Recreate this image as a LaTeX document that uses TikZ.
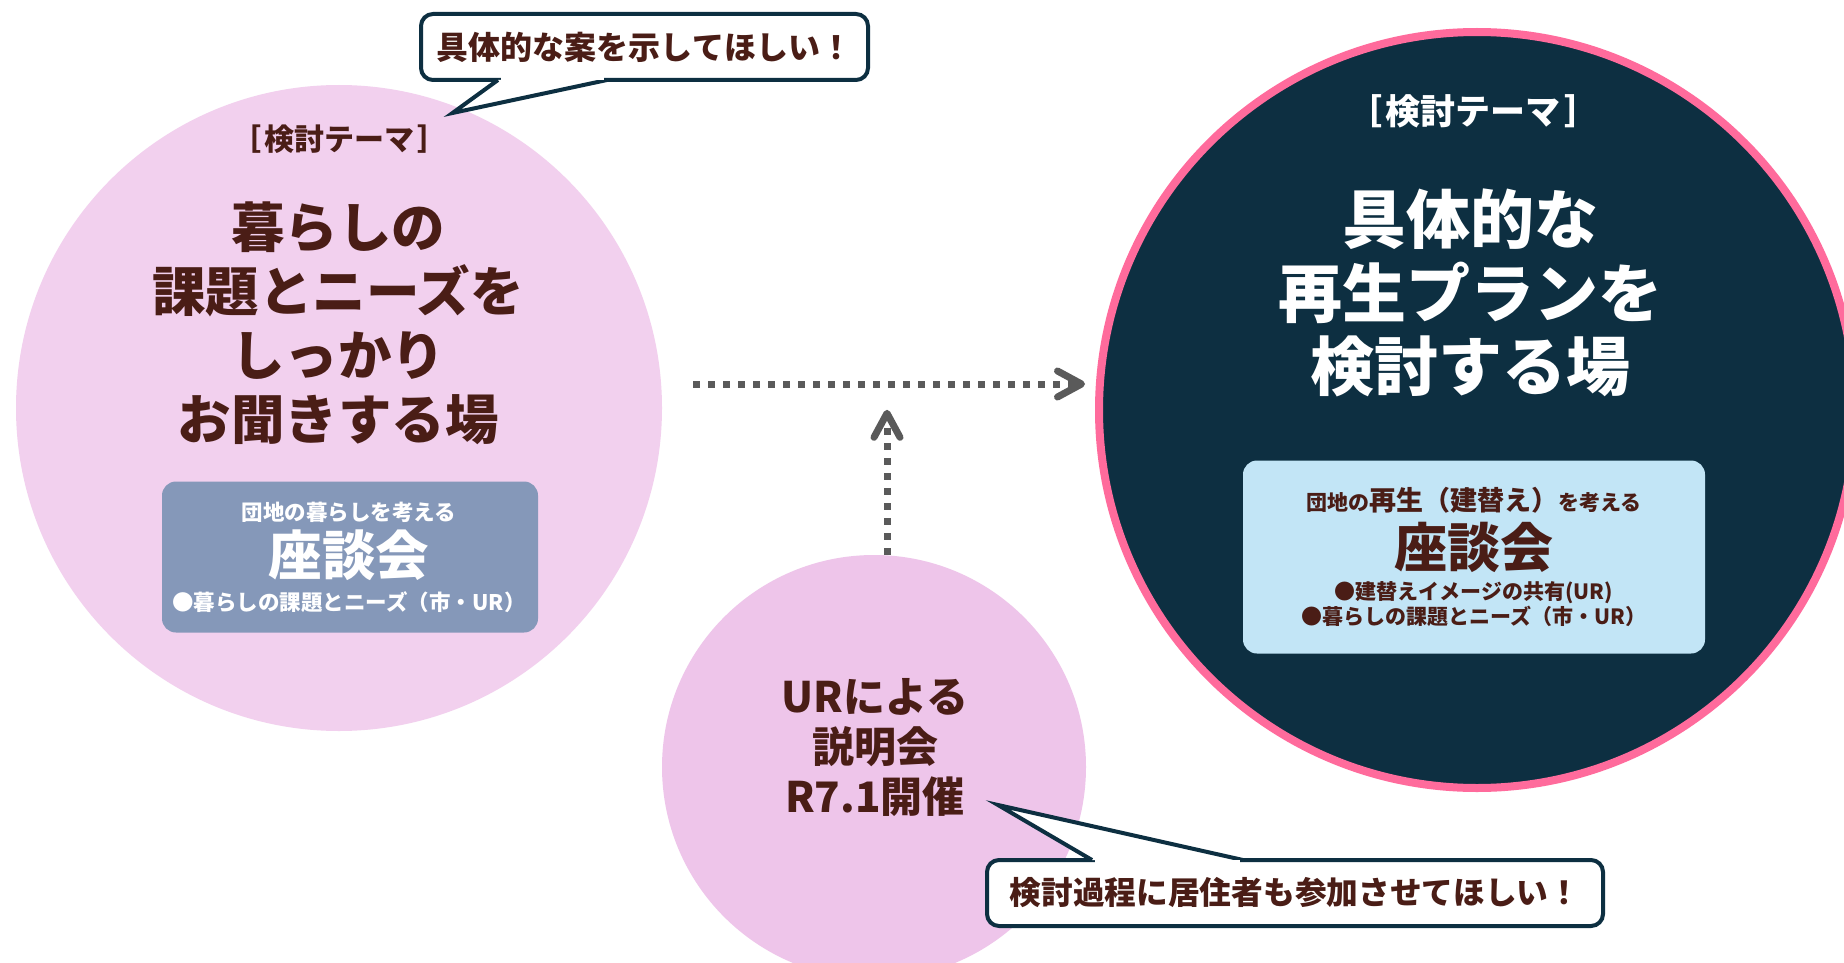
\documentclass[tikz,border=0pt]{standalone}
\usepackage{fontspec}
\setmainfont{Noto Sans CJK JP}
\newcommand{\wt}{\bfseries}
\usetikzlibrary{arrows.meta,calc}
\definecolor{txtbrown}{HTML}{4A1D16}
\definecolor{navy}{HTML}{0D2F41}
\definecolor{ringpink}{HTML}{FF6B9C}
\definecolor{lpink}{HTML}{F2D0EE}
\definecolor{bpink}{HTML}{EEC5EA}
\definecolor{slate}{HTML}{8598B9}
\definecolor{lblue}{HTML}{C2E5F6}
\definecolor{arrowgray}{HTML}{5A5A5A}
\newcommand{\fsz}[2]{\fontsize{#1pt}{#2pt}\selectfont}
\newcommand{\theme}{［\hspace{0.1em}検討テーマ\hspace{0.1em}］}
\begin{document}
\begin{tikzpicture}[x=1pt,y=-1pt,
  bigcircle/.style={circle,inner sep=0pt},
  txt/.style={inner sep=0pt,align=center,text=txtbrown},
  infobox/.style={rectangle,rounded corners=14pt,inner sep=0pt},
  bubble/.style={rectangle,rounded corners=12pt,draw=navy,line width=4pt,fill=white,
    inner sep=0pt,text=txtbrown},
  tailline/.style={draw=navy,line width=4pt,fill=white,line join=miter},
  dotline/.style={draw=arrowgray,line width=7pt,dash pattern=on 7pt off 8pt,
    -{Straight Barb[length=24pt,width=26pt,line width=7pt,round]}}
]
\useasboundingbox (0,0) rectangle (1844,963);
\clip (0,0) rectangle (1844,963);
\fill[white] (0,0) rectangle (1844,963);

% circles
\node[bigcircle,minimum size=646pt,fill=lpink] (L) at (339,408) {};
\node[bigcircle,minimum size=756pt,fill=navy,draw=ringpink,line width=8pt] (R) at (1477,410) {};
\node[bigcircle,minimum size=424pt,fill=bpink] (B) at (874,767) {};

% left circle texts
\node[txt,font={\wt\fsz{30}{34}}] (Ltheme) at (339,139) {\theme};
\node[txt,font={\wt\fsz{53.5}{64}}] (Lmain) at (338,323) {暮らしの\\課題とニーズを\\しっかり\\お聞きする場};
\node[infobox,fill=slate,minimum width=376pt,minimum height=151pt] (LB) at (350,557) {};
\node[txt,text=white,font={\wt\fsz{21.5}{25}}] (LBt) at (349,512) {団地の暮らしを考える};
\node[txt,text=white,font={\wt\fsz{53.5}{60}}] (LBz) at (349,555) {座談会};
\node[txt,text=white,font={\wt\fsz{21.5}{25}}] (LBl) at (349,602) {●暮らしの課題とニーズ（市・UR）};

% right circle texts
\node[txt,text=white,font={\wt\fsz{35}{40}}] (Rtheme) at (1473,111) {\theme};
\node[txt,text=white,font={\wt\fsz{64}{73.5}}] (Rmain) at (1470,293) {具体的な\\再生プランを\\検討する場};
\node[infobox,fill=lblue,minimum width=462pt,minimum height=193pt] (RB) at (1474,557) {};
\node[txt,font={\wt\fsz{21}{27}}] (RBt) at (1474,500) {団地の{\fsz{27}{31}再生（建替え）}を考える};
\node[txt,font={\wt\fsz{53}{60}}] (RBz) at (1474,547) {座談会};
\node[txt,font={\wt\fsz{21}{25}}] (RBl) at (1474,604.5) {●建替えイメージの共有(UR)\\●暮らしの課題とニーズ（市・UR）};

% bottom circle text
\node[txt,font={\wt\fsz{42}{50}}] (Bmain) at (875,747) {URによる\\説明会\\R7.1開催};

% arrows
\draw[dotline] ($(L.east)+(31,-24)$) -- ($(R.west)+(-10,-26)$);
\draw[dotline] ($(B.north)+(13,0)$) -- ($(B.north)+(13,-145)$);

% top bubble
\node[bubble,font={\wt\fsz{32}{36}},minimum width=447pt,minimum height=66pt] (TB) at (644.5,47) {具体的な案を示してほしい！};
\coordinate (tb1) at ($(TB.south)+(-146.5,-2)$);
\coordinate (tb2) at ($(TB.south)+(-37.5,-2)$);
\coordinate (tbt) at ($(TB.south)+(-192,31)$);
\filldraw[tailline] (tb1) -- (tbt) -- (tb2);
\fill[white] ($(tb1)+(3,0.5)$) rectangle ($(tb2)+(-3,-2.6)$);

% bottom bubble
\node[bubble,font={\wt\fsz{31.7}{36}},minimum width=616pt,minimum height=66pt] (BB) at (1295,893) {検討過程に居住者も参加させてほしい！};
\coordinate (bb1) at ($(BB.north)+(-203,2)$);
\coordinate (bb2) at ($(BB.north)+(-52,2)$);
\coordinate (bbt) at ($(BB.north)+(-297,-53)$);
\filldraw[tailline] (bb1) -- (bbt) -- (bb2);
\fill[white] ($(bb1)+(3,-0.5)$) rectangle ($(bb2)+(-3,2.6)$);
\end{tikzpicture}
\end{document}
